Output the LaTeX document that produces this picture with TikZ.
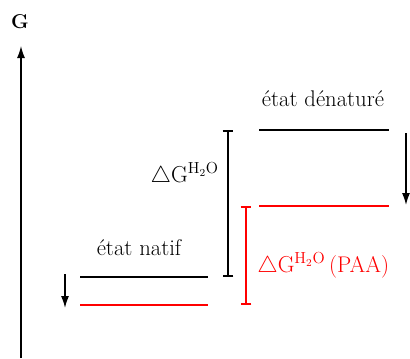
\documentclass[tikz,border=0pt]{standalone}
\usepackage{xcolor}
\usepackage{tikz}
\usetikzlibrary{arrows.meta,positioning}
\definecolor{etatnoir}{HTML}{000000}
\definecolor{etatrouge}{HTML}{FF0000}
\tikzset{%
  etatniveau/.style={%
    draw=etatnoir,
    line width=1.5pt
  },
  etatniveaurouge/.style={%
    etatniveau,
    draw=etatrouge
  },
  etattexte/.style={%
    anchor=base,
    inner sep=0pt,
    font=\fontsize{17}{20}\selectfont
  },
  etatfleche/.style={-{Latex[length=9pt,width=6pt]},line width=1.1pt,draw=etatnoir},
  etatecart/.style={{Bar[width=8pt]}-{Bar[width=8pt]},line width=1.5pt,draw=etatnoir},
  etatecartrouge/.style={etatecart,draw=etatrouge}
}

\begin{document}
\begin{tikzpicture}[x=0.75pt,y=-0.75pt]
    \useasboundingbox (0,0) rectangle (410,358);

    % axe de l'energie libre
    \coordinate (axebas) at (21,358);
    \node[font=\bfseries\fontsize{15}{18}\selectfont,inner sep=0pt] (axeG) at (20,22) {G};
    \coordinate (axehaut) at (21,46);
    \draw[etatfleche,line width=1pt] (axebas) -- (axehaut);

    % etat natif
    \coordinate (natifA) at (80,277);
    \coordinate (natifB) at (208,277);
    \coordinate (natifrA) at (80,305);
    \coordinate (natifrB) at (208,305);
    \node[etattexte] (natif) at (139,255) {état natif};
    \draw[etatniveau] (natifA) -- (natifB);
    \draw[etatniveaurouge] (natifrA) -- (natifrB);
    \coordinate (natifhaut) at (65,274);
    \coordinate (natifbas) at (65,308);
    \draw[etatfleche] (natifhaut) -- (natifbas);

    % etat denature
    \coordinate (denA) at (259,130);
    \coordinate (denB) at (389,130);
    \coordinate (denrA) at (259,206);
    \coordinate (denrB) at (389,206);
    \node[etattexte] (denature) at (323,106) {état dénaturé};
    \draw[etatniveau] (denA) -- (denB);
    \draw[etatniveaurouge] (denrA) -- (denrB);
    \coordinate (denhaut) at (406,133);
    \coordinate (denbas) at (406,205);
    \draw[etatfleche] (denhaut) -- (denbas);

    % ecarts d'energie
    \coordinate (ecarthaut) at (228,130);
    \coordinate (ecartbas) at (228,277);
    \draw[etatecart] (ecarthaut) -- (ecartbas);
    \node[etattexte,anchor=base east] (dGeau) at (219,182) {$\triangle\mathrm{G}^{\mathrm{H_2O}}$};

    \coordinate (ecartrhaut) at (246,206);
    \coordinate (ecartrbas) at (246,305);
    \draw[etatecartrouge] (ecartrhaut) -- (ecartrbas);
    \node[etattexte,anchor=base west,text=etatrouge] (dGpaa) at (257,272) {$\triangle\mathrm{G}^{\mathrm{H_2O}}$\,(PAA)};
  \end{tikzpicture}
\end{document}
